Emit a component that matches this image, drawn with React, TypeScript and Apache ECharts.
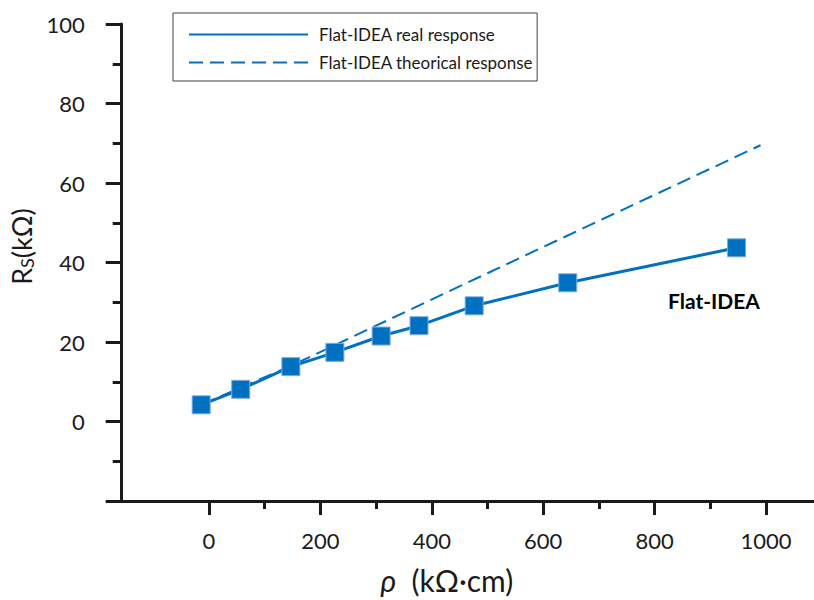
import React, { useEffect, useRef } from "react";
import * as echarts from "echarts";

const rhoReal = [-14, 57, 147, 226, 309, 377, 476, 644, 947];
const rsReal = [4.2, 8.1, 13.8, 17.4, 21.5, 24.1, 29.1, 34.9, 43.7];
const rhoTheory = [-14, 147, 580, 990];
const rsTheory = [4.2, 14.0, 42.6, 69.5];
const xMajorTicks = [0, 200, 400, 600, 800, 1000];
const xMinorTicks = [100, 300, 500, 700, 900];
const seriesNames = ["Flat-IDEA real response", "Flat-IDEA theorical response"];
const annotation = "Flat-IDEA";

const BLUE = "#0070C0";
const INK = "#1a1a1a";
const FONT = "Lato, 'Open Sans', sans-serif";

export default function App() {
  const ref = useRef<HTMLDivElement>(null);
  useEffect(() => {
    if (!ref.current) return;
    const chart = echarts.init(ref.current, undefined, { renderer: "svg" });
    const xMin = -156.7;
    const xMax = 1086;
    const realData = rhoReal.map((x, i) => [x, rsReal[i]]);
    const theoryData = rhoTheory.map((x, i) => [x, rsTheory[i]]);
    chart.setOption({
      animation: false,
      backgroundColor: "#ffffff",
      textStyle: { fontFamily: FONT },
      grid: { left: 116, right: 0, top: 24, bottom: 97, containLabel: false },
      legend: {
        data: seriesNames,
        orient: "vertical",
        left: 173,
        top: 13,
        padding: [13, 4, 10, 15],
        itemWidth: 119,
        itemHeight: 14,
        itemGap: 11,
        borderColor: "#404040",
        borderWidth: 1,
        selectedMode: false,
        lineStyle: { width: 2 },
        itemStyle: { opacity: 0 },
        textStyle: { fontSize: 17, color: INK, fontFamily: FONT, padding: [0, 0, 0, 6] },
      },
      xAxis: [
        {
          type: "value",
          min: xMin,
          max: xMax,
          name: "{i|ρ}  (kΩ·cm)",
          nameLocation: "middle",
          nameGap: 64,
          nameTextStyle: {
            fontSize: 30,
            color: INK,
            fontFamily: FONT,
            padding: [0, 42, 0, 0],
            rich: { i: { fontSize: 30, fontStyle: "italic", color: INK, fontFamily: FONT } },
          },
          splitLine: { show: false },
          axisLine: { show: true, onZero: false, lineStyle: { color: INK, width: 3 } },
          axisTick: { show: true, customValues: xMajorTicks, length: 14, lineStyle: { color: INK, width: 3 } },
          axisLabel: {
            customValues: xMajorTicks,
            fontSize: 22,
            color: INK,
            margin: 28,
            fontFamily: FONT,
            formatter: (v: number) => String(v),
          },
        },
        {
          type: "value",
          min: xMin,
          max: xMax,
          position: "bottom",
          splitLine: { show: false },
          axisLine: { show: false, onZero: false },
          axisTick: { show: true, customValues: xMinorTicks, length: 8, lineStyle: { color: INK, width: 3 } },
          axisLabel: { show: false },
        },
      ],
      yAxis: {
        type: "value",
        min: -20,
        max: 100,
        interval: 20,
        name: "R{s|S}(kΩ)",
        nameLocation: "middle",
        nameRotate: 90,
        nameGap: 76,
        nameTextStyle: {
          fontSize: 27,
          color: INK,
          fontFamily: FONT,
          padding: [0, 0, 0, 32],
          rich: { s: { fontSize: 18, color: INK, fontFamily: FONT, verticalAlign: "bottom", padding: [10, 0, 0, 0] } },
        },
        splitLine: { show: false },
        axisLine: { show: true, onZero: false, lineStyle: { color: INK, width: 3 } },
        axisTick: { show: true, length: 16, lineStyle: { color: INK, width: 3 } },
        minorTick: { show: true, splitNumber: 2, length: 9, lineStyle: { color: INK, width: 3 } },
        axisLabel: {
          fontSize: 22,
          color: INK,
          margin: 37,
          fontFamily: FONT,
          formatter: (v: number) => (v < 0 ? "" : String(v)),
        },
      },
      series: [
        {
          name: seriesNames[0],
          type: "line",
          data: realData,
          showSymbol: false,
          symbol: "none",
          lineStyle: { color: BLUE, width: 3 },
          itemStyle: { color: BLUE },
          z: 3,
        },
        {
          name: seriesNames[1],
          type: "line",
          data: theoryData,
          showSymbol: false,
          symbol: "none",
          lineStyle: { color: BLUE, width: 2, type: [14, 7] },
          itemStyle: { color: BLUE },
          z: 2,
        },
        {
          name: "points",
          type: "scatter",
          data: realData,
          symbol: "rect",
          symbolSize: 18,
          itemStyle: { color: BLUE, opacity: 1, borderColor: "#7FA9DD", borderWidth: 1 },
          z: 4,
        },
      ],
      graphic: [
        {
          type: "text",
          left: 668,
          top: 290,
          style: { text: annotation, fontSize: 21, fontWeight: "bold", fill: "#000", fontFamily: FONT },
        },
      ],
    });
    return () => chart.dispose();
  }, []);
  return <div ref={ref} style={{ position: "absolute", left: 0, top: 0, width: 814, height: 600 }} />;
}
